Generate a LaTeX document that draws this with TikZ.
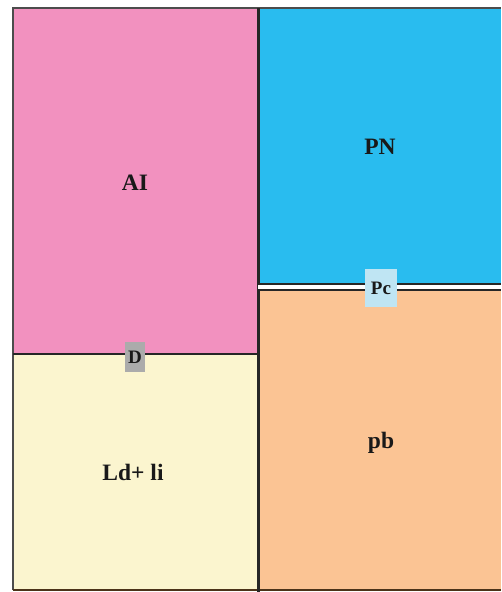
\documentclass[tikz,border=0pt]{standalone}
\usepackage{fontspec}
\setmainfont{Liberation Serif}
\definecolor{cpink}{HTML}{F291BF}
\definecolor{cblue}{HTML}{29BCEF}
\definecolor{cyel}{HTML}{FBF5CF}
\definecolor{cpeach}{HTML}{FBC494}
\definecolor{cgray}{HTML}{ABABAB}
\definecolor{cpc}{HTML}{BFE5F3}
\begin{document}
\begin{tikzpicture}[x=1pt,y=-1pt,
  lbl/.style={font=\bfseries\fontsize{23.5}{23.5}\selectfont, text=black!90, inner sep=0pt},
  tag/.style={font=\bfseries\fontsize{19}{19}\selectfont, text=black!90, inner sep=2pt}]
\useasboundingbox (0,0) rectangle (501,592);
\fill[white] (0,0) rectangle (501,592);
\fill[cpink] (13,8) rectangle (258,354);
\fill[cyel] (13,354) rectangle (258,590);
\fill[cblue] (258,8) rectangle (501,287);
\fill[cpeach] (258,287) rectangle (501,590);
% borders
\draw[line width=2pt, black!70] (13,590) -- (13,8) -- (501,8);
\draw[line width=1.5pt, black!60!brown] (13,590) -- (501,590);
\draw[line width=3pt, black!85] (258,8) -- (258,592);
\draw[line width=2pt, black!85] (13,354) -- (258,354);
\fill[white] (258,285) rectangle (501,289);
\draw[line width=2pt, black!85] (258,284) -- (501,284);
\draw[line width=2pt, black!85] (258,290) -- (501,290);
% labels
\node[lbl] (ai) at (135,183) {AI};
\node[lbl] (pn) at (380,147) {PN};
\node[lbl] (ld) at (133,472) {Ld+ li};
\node[lbl] (pb) at (381,443) {pb};
\node[tag, fill=cgray, minimum width=20pt, minimum height=30pt] (d) at (135,357) {D};
\node[tag, fill=cpc, minimum width=32pt, minimum height=38pt] (pc) at (381,288) {Pc};
\end{tikzpicture}
\end{document}
